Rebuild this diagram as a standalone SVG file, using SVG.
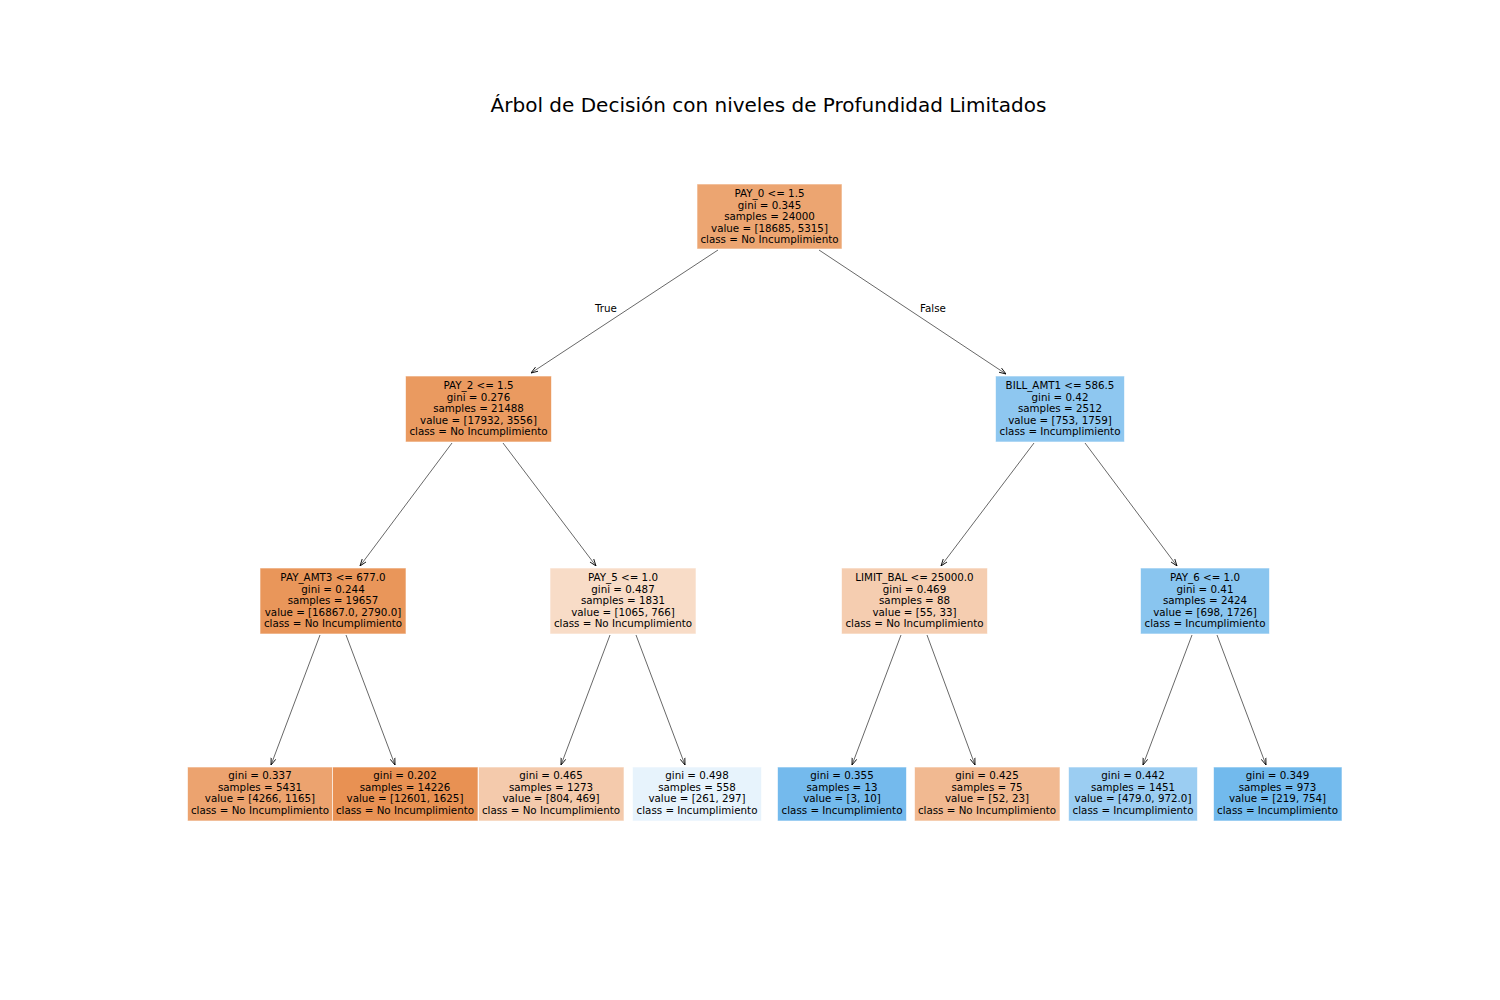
<svg xmlns="http://www.w3.org/2000/svg" width="1500" height="1000" viewBox="0 0 1500 1000">
<defs>
<style>
.t{font-family:"DejaVu Sans","Liberation Sans",sans-serif;font-size:10.3px;fill:#000;text-anchor:middle}
.title{font-family:"DejaVu Sans","Liberation Sans",sans-serif;font-size:20px;fill:#000;text-anchor:middle}
.box{stroke:#ffffff;stroke-opacity:0.6;stroke-width:1}
.edge{stroke:#000;stroke-width:0.6;fill:none;marker-end:url(#arr)}
</style>
<marker id="arr" viewBox="0 0 10 10" refX="10" refY="5" markerWidth="7" markerHeight="7" markerUnits="userSpaceOnUse" orient="auto">
<path d="M0,1.5 L10,5 L0,8.5" fill="none" stroke="#000" stroke-width="1.2"/>
</marker>
</defs>
<rect width="1500" height="1000" fill="#fff"/>
<text class="title" x="768.5" y="112">Árbol de Decisión con niveles de Profundidad Limitados</text>

<g id="connectors">
<line class="edge" x1="718" y1="250" x2="531" y2="373"/>
<line class="edge" x1="819" y1="250" x2="1006" y2="374"/>
<line class="edge" x1="452" y1="443" x2="360" y2="566"/>
<line class="edge" x1="503" y1="443" x2="596" y2="566"/>
<line class="edge" x1="1034" y1="443" x2="941" y2="566"/>
<line class="edge" x1="1085" y1="443" x2="1177" y2="566"/>
<line class="edge" x1="320" y1="635" x2="271" y2="765"/>
<line class="edge" x1="346" y1="635" x2="395" y2="765"/>
<line class="edge" x1="610" y1="635" x2="561" y2="765"/>
<line class="edge" x1="636" y1="635" x2="685" y2="765"/>
<line class="edge" x1="901" y1="635" x2="852" y2="765"/>
<line class="edge" x1="927" y1="635" x2="975" y2="765"/>
<line class="edge" x1="1192" y1="635" x2="1143" y2="765"/>
<line class="edge" x1="1217" y1="635" x2="1266" y2="765"/>
<text class="t" x="606" y="312">True</text>
<text class="t" x="933" y="312">False</text>
</g>

<g id="n0">
<rect class="box" x="697" y="184" width="145" height="65" fill="#eca571"/>
<text class="t" x="769.5" y="197">PAY_0 &lt;= 1.5<tspan x="769.5" dy="11.6">gini = 0.345</tspan><tspan x="769.5" dy="11.6">samples = 24000</tspan><tspan x="769.5" dy="11.6">value = [18685, 5315]</tspan><tspan x="769.5" dy="11.6">class = No Incumplimiento</tspan></text>
</g>

<g id="n1">
<rect class="box" x="405.5" y="376" width="146" height="66" fill="#ea9a60"/>
<text class="t" x="478.5" y="389">PAY_2 &lt;= 1.5<tspan x="478.5" dy="11.6">gini = 0.276</tspan><tspan x="478.5" dy="11.6">samples = 21488</tspan><tspan x="478.5" dy="11.6">value = [17932, 3556]</tspan><tspan x="478.5" dy="11.6">class = No Incumplimiento</tspan></text>
</g>

<g id="n8">
<rect class="box" x="995.5" y="376" width="129" height="66" fill="#8ec7f0"/>
<text class="t" x="1060" y="389">BILL_AMT1 &lt;= 586.5<tspan x="1060" dy="11.6">gini = 0.42</tspan><tspan x="1060" dy="11.6">samples = 2512</tspan><tspan x="1060" dy="11.6">value = [753, 1759]</tspan><tspan x="1060" dy="11.6">class = Incumplimiento</tspan></text>
</g>

<g id="n2">
<rect class="box" x="260" y="568" width="146" height="66" fill="#e9965a"/>
<text class="t" x="333" y="581">PAY_AMT3 &lt;= 677.0<tspan x="333" dy="11.6">gini = 0.244</tspan><tspan x="333" dy="11.6">samples = 19657</tspan><tspan x="333" dy="11.6">value = [16867.0, 2790.0]</tspan><tspan x="333" dy="11.6">class = No Incumplimiento</tspan></text>
</g>

<g id="n5">
<rect class="box" x="550" y="568" width="146" height="66" fill="#f8dcc7"/>
<text class="t" x="623" y="581">PAY_5 &lt;= 1.0<tspan x="623" dy="11.6">gini = 0.487</tspan><tspan x="623" dy="11.6">samples = 1831</tspan><tspan x="623" dy="11.6">value = [1065, 766]</tspan><tspan x="623" dy="11.6">class = No Incumplimiento</tspan></text>
</g>

<g id="n9">
<rect class="box" x="841.5" y="568" width="146" height="66" fill="#f5cdb0"/>
<text class="t" x="914.5" y="581">LIMIT_BAL &lt;= 25000.0<tspan x="914.5" dy="11.6">gini = 0.469</tspan><tspan x="914.5" dy="11.6">samples = 88</tspan><tspan x="914.5" dy="11.6">value = [55, 33]</tspan><tspan x="914.5" dy="11.6">class = No Incumplimiento</tspan></text>
</g>

<g id="n12">
<rect class="box" x="1140.5" y="568" width="129" height="66" fill="#89c5ef"/>
<text class="t" x="1205" y="581">PAY_6 &lt;= 1.0<tspan x="1205" dy="11.6">gini = 0.41</tspan><tspan x="1205" dy="11.6">samples = 2424</tspan><tspan x="1205" dy="11.6">value = [698, 1726]</tspan><tspan x="1205" dy="11.6">class = Incumplimiento</tspan></text>
</g>

<g id="n3">
<rect class="box" x="187.5" y="767" width="145" height="54" fill="#eca36f"/>
<text class="t" x="260" y="779">gini = 0.337<tspan x="260" dy="11.6">samples = 5431</tspan><tspan x="260" dy="11.6">value = [4266, 1165]</tspan><tspan x="260" dy="11.6">class = No Incumplimiento</tspan></text>
</g>

<g id="n4">
<rect class="box" x="332.5" y="767" width="145.5" height="54" fill="#e89153"/>
<text class="t" x="405" y="779">gini = 0.202<tspan x="405" dy="11.6">samples = 14226</tspan><tspan x="405" dy="11.6">value = [12601, 1625]</tspan><tspan x="405" dy="11.6">class = No Incumplimiento</tspan></text>
</g>

<g id="n6">
<rect class="box" x="478.5" y="767" width="145.5" height="54" fill="#f4caac"/>
<text class="t" x="551" y="779">gini = 0.465<tspan x="551" dy="11.6">samples = 1273</tspan><tspan x="551" dy="11.6">value = [804, 469]</tspan><tspan x="551" dy="11.6">class = No Incumplimiento</tspan></text>
</g>

<g id="n7">
<rect class="box" x="632.5" y="767" width="129" height="54" fill="#e7f3fc"/>
<text class="t" x="697" y="779">gini = 0.498<tspan x="697" dy="11.6">samples = 558</tspan><tspan x="697" dy="11.6">value = [261, 297]</tspan><tspan x="697" dy="11.6">class = Incumplimiento</tspan></text>
</g>

<g id="n10">
<rect class="box" x="777.5" y="767" width="129" height="54" fill="#74baed"/>
<text class="t" x="842" y="779">gini = 0.355<tspan x="842" dy="11.6">samples = 13</tspan><tspan x="842" dy="11.6">value = [3, 10]</tspan><tspan x="842" dy="11.6">class = Incumplimiento</tspan></text>
</g>

<g id="n11">
<rect class="box" x="914.5" y="767" width="145.5" height="54" fill="#f1b991"/>
<text class="t" x="987" y="779">gini = 0.425<tspan x="987" dy="11.6">samples = 75</tspan><tspan x="987" dy="11.6">value = [52, 23]</tspan><tspan x="987" dy="11.6">class = No Incumplimiento</tspan></text>
</g>

<g id="n13">
<rect class="box" x="1068.5" y="767" width="129" height="54" fill="#9bcdf2"/>
<text class="t" x="1133" y="779">gini = 0.442<tspan x="1133" dy="11.6">samples = 1451</tspan><tspan x="1133" dy="11.6">value = [479.0, 972.0]</tspan><tspan x="1133" dy="11.6">class = Incumplimiento</tspan></text>
</g>

<g id="n14">
<rect class="box" x="1213.5" y="767" width="128.5" height="54" fill="#72baed"/>
<text class="t" x="1277.5" y="779">gini = 0.349<tspan x="1277.5" dy="11.6">samples = 973</tspan><tspan x="1277.5" dy="11.6">value = [219, 754]</tspan><tspan x="1277.5" dy="11.6">class = Incumplimiento</tspan></text>
</g>
</svg>
